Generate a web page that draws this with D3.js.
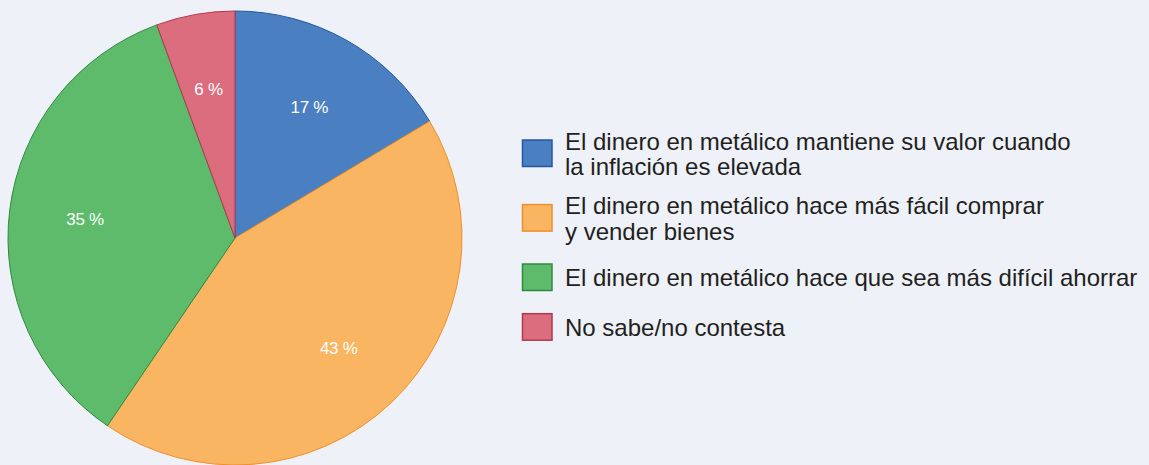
<!DOCTYPE html>
<meta charset="utf-8">
<script src="https://d3js.org/d3.v7.min.js"></script>
<style>
body { margin: 0; background: #eef1f8; }
* { font-family: "Liberation Sans", Arial, Helvetica, sans-serif; }
</style>
<div id="chart"></div>
<script>
// slice values (labels are the rounded figures printed on it)
const categories = [
  ["El dinero en metálico mantiene su valor cuando", "la inflación es elevada"],
  ["El dinero en metálico hace más fácil comprar", "y vender bienes"],
  ["El dinero en metálico hace que sea más difícil ahorrar"],
  ["No sabe/no contesta"]
];
const values = [16.4, 43.1, 34.9, 5.6];
const labels = ["17 %", "43 %", "35 %", "6 %"];
const fills = ["#4a7fc1", "#f9b561", "#5dbb6b", "#dc6d7e"];
const strokes = ["#2457a0", "#f08f2a", "#2f8a3f", "#b3384f"];

const width = 1149, height = 465;
const cx = 235, cy = 238, R = 227;

const svg = d3.select("#chart")
  .append("svg")
    .attr("width", width)
    .attr("height", height);

const data = values.map((v, i) => ({v, i}));

const pie = d3.pie().value(d => d.v).sort(null);
const arc = d3.arc().innerRadius(0).outerRadius(R);
const labelArc = d3.arc().innerRadius(151).outerRadius(151);

const g = svg.append("g").attr("transform", `translate(${cx},${cy})`);

g.selectAll("path")
  .data(pie(data))
  .join("path")
    .attr("d", arc)
    .attr("fill", d => fills[d.data.i])
    .attr("stroke", d => strokes[d.data.i])
    .attr("stroke-width", 1);

g.selectAll("text")
  .data(pie(data))
  .join("text")
    .attr("transform", d => `translate(${labelArc.centroid(d)})`)
    .attr("text-anchor", "middle")
    .attr("dy", "0.35em")
    .attr("fill", "#fff")
    .style("font-size", "17px")
    .style("letter-spacing", "-0.3px")
    .text(d => labels[d.data.i]);

// legend
const legendY = [153, 217.6, 277, 326.7];
const legend = svg.append("g");
const item = legend.selectAll("g")
  .data(categories)
  .join("g")
    .attr("transform", (d, i) => `translate(522,${legendY[i]})`);

item.append("rect")
  .attr("x", 0.5)
  .attr("y", -13)
  .attr("width", 29.5)
  .attr("height", 26.5)
  .attr("fill", (d, i) => fills[i])
  .attr("stroke", (d, i) => strokes[i])
  .attr("stroke-width", 1.5);

item.append("text")
  .attr("fill", "#231f20")
  .style("font-size", "24px")
  .selectAll("tspan")
  .data(d => d.map((t, j) => ({t, j, n: d.length})))
  .join("tspan")
    .attr("x", 43)
    .attr("y", d => 1 + (d.j - (d.n - 1) / 2) * 25.5)
    .attr("dy", "0.35em")
    .text(d => d.t);
</script>
